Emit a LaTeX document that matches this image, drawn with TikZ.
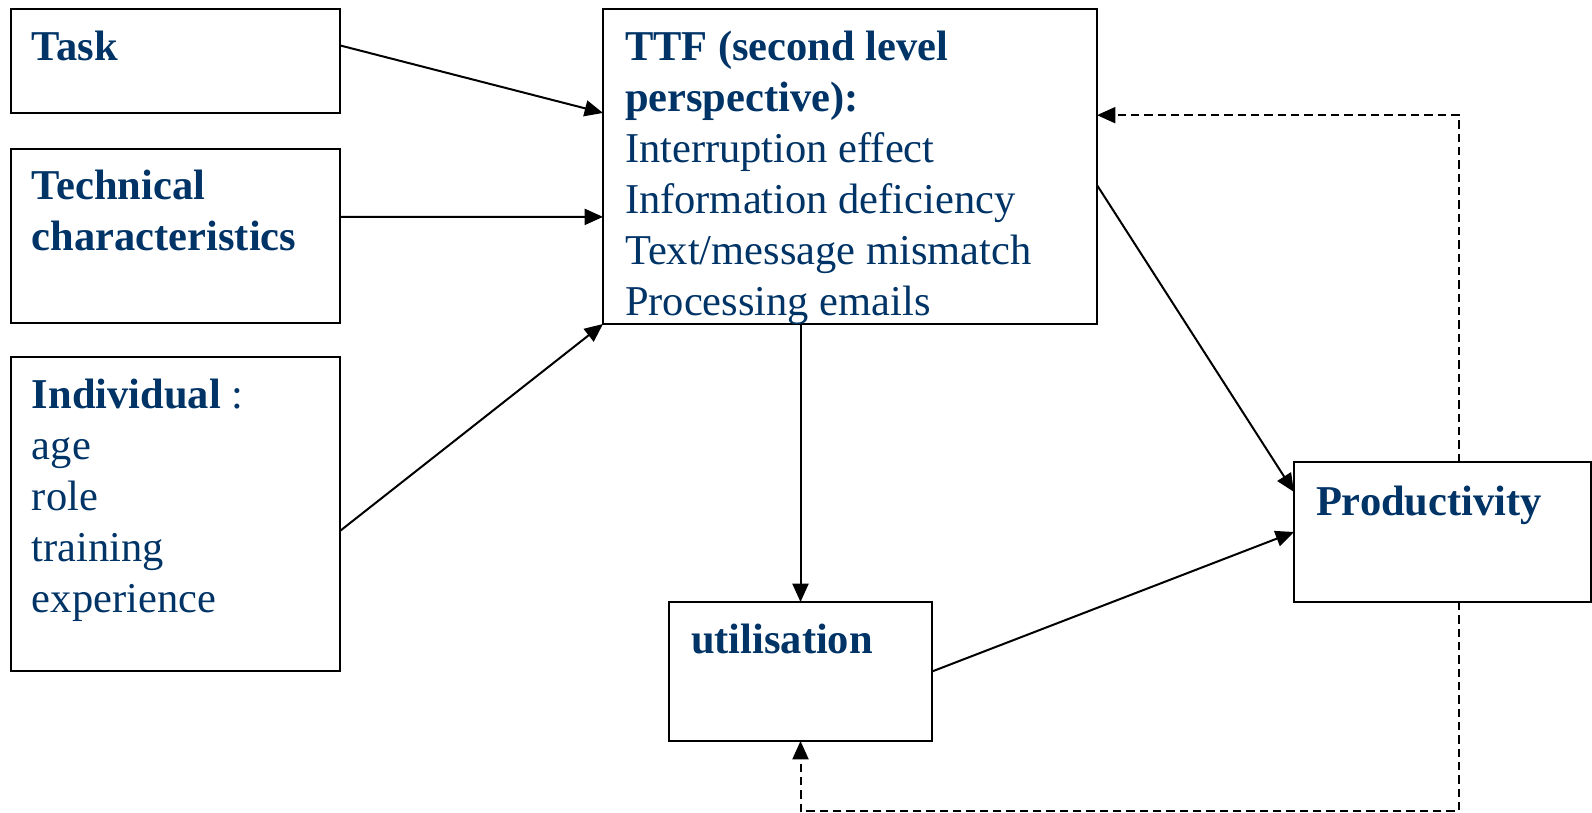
\documentclass[tikz,border=0pt]{standalone}
\usepackage{fontspec}
\setmainfont{Liberation Serif}
\usetikzlibrary{arrows.meta,calc}
\begin{document}
\begin{tikzpicture}[x=0.3pt,y=-0.3pt,
  box/.style={draw=black,line width=0.7pt,inner sep=0pt,outer sep=0pt,anchor=north west},
  lbl/.style={text=txtColor,anchor=base west,inner sep=0pt,outer sep=0pt,align=left,
    font=\fontsize{12.75pt}{15.25pt}\selectfont},
  link/.style={draw=black,line width=0.6pt,-{Triangle[length=5.5pt,width=4.8pt]}},
  fb/.style={link,dash pattern=on 2.5pt off 1.5pt}]
\definecolor{txtColor}{rgb}{0.00,0.20,0.40}
\useasboundingbox (0,0) rectangle (1592,813);

\node[box,minimum width=98.7pt,minimum height=31.2pt] (task) at (11,9) {};
\node[box,minimum width=98.7pt,minimum height=52.2pt] (tech) at (11,149) {};
\node[box,minimum width=98.7pt,minimum height=94.2pt] (indiv) at (11,357) {};
\node[box,minimum width=148.2pt,minimum height=94.5pt] (ttf) at (603,9) {};
\node[box,minimum width=89.1pt,minimum height=42pt] (prod) at (1294,462) {};
\node[box,minimum width=78.9pt,minimum height=41.7pt] (util) at (669,602) {};

\node[lbl] (taskLbl) at (32,61) {\textbf{Task}};
\node[lbl] (techLbl) at (32,250) {\textbf{Technical}\\\textbf{characteristics}};
\node[lbl] (indivLbl) at (32,612) {\textbf{Individual} :\\age\\role\\training\\experience};
\node[lbl] (ttfLbl) at (625,315) {\textbf{TTF (second level}\\\textbf{perspective):}\\Interruption effect\\Information deficiency\\Text/message mismatch\\Processing emails};
\node[lbl] (utilLbl) at (691,653) {\textbf{utilisation}};
\node[lbl] (prodLbl) at (1316,515) {\textbf{Productivity}};

\draw[link] ($(task.north east)!0.35!(task.south east)$) -- ($(ttf.north west)!0.33!(ttf.south west)$);
\draw[link] ($(tech.north east)!0.39!(tech.south east)$) -- ($(ttf.north west)!0.66!(ttf.south west)$);
\draw[link] ($(indiv.north east)!0.554!(indiv.south east)$) -- (ttf.south west);
\draw[link] (ttf.south -| util.north) -- (util.north);
\draw[link] ($(ttf.north east)!0.559!(ttf.south east)$) -- ($(prod.north west)!0.214!(prod.south west)$);
\draw[link] (util.east) -- (prod.west);
\draw[fb] ($(prod.north west)!0.556!(prod.north east)$) |- ($(ttf.north east)!0.337!(ttf.south east)$);
\draw[fb] ($(prod.south west)!0.556!(prod.south east)$) -- ++(0,209) -| (util.south);
\end{tikzpicture}
\end{document}
